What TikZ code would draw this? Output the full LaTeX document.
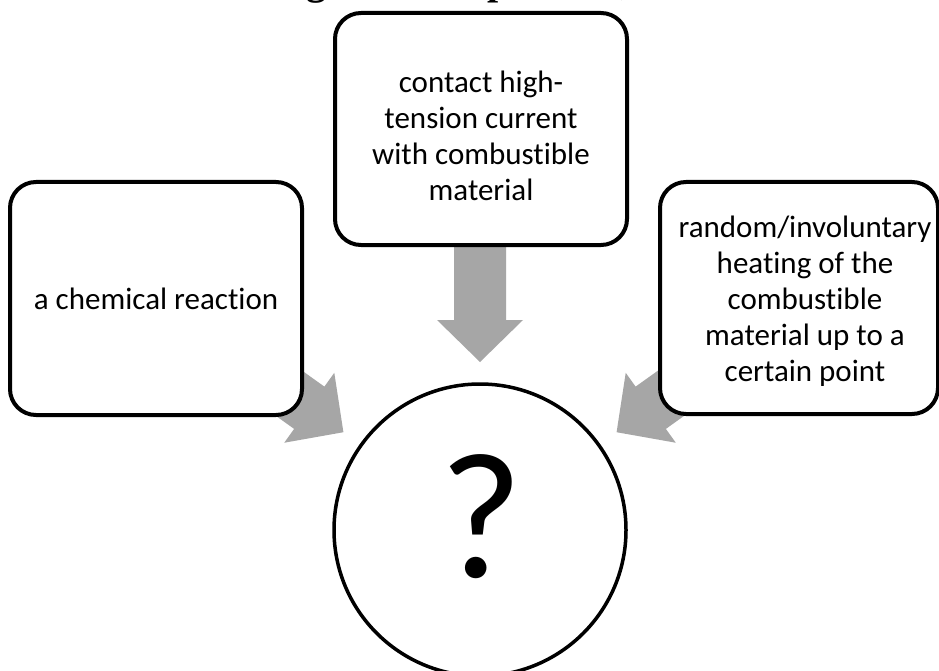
\documentclass[tikz,border=0pt]{standalone}
\usepackage{fontspec}
\setmainfont{Carlito}[Ligatures=NoCommon]
\newfontfamily\headfont{Liberation Serif}
\usetikzlibrary{calc,backgrounds}
\definecolor{arrowgray}{RGB}{166,166,166}

\begin{document}
\begin{tikzpicture}[x=1pt,y=1pt,
  causebox/.style={draw=black, line width=4pt, fill=white, rounded corners=26pt,
    minimum width=292pt, minimum height=233pt, align=center, inner sep=4pt,
    font=\fontsize{31}{36}\selectfont},
  boxtext/.style={align=center, inner sep=0pt, font=\fontsize{31}{36}\selectfont},
  unknown/.style={draw=black, line width=3.5pt, fill=white, circle,
    minimum size=292pt, inner sep=0pt},
  bigmark/.style={inner sep=0pt, font=\fontsize{180}{190}\selectfont},
  fatarrow/.style={fill=arrowgray},
  headbit/.style={font=\headfont\bfseries\fontsize{40}{40}\selectfont,
    anchor=base, inner sep=0pt}
]
\useasboundingbox (0,0) rectangle (939,-671);
\clip (0,0) rectangle (939,-671);

% descenders of the heading line above
\node[headbit] (hg) at (316,5) {g};
\node[headbit] (hp) at (499,5) {p};
\node[headbit] (hc) at (626,5) {,};

% the three causes
\node[causebox] (chem) at (156,-298.5) {a chemical reaction};
\node[causebox, minimum height=232pt] (contact) at (481,-129) {};
\node[boxtext] (contacttext) at (481,-136)
  {contact high-\\tension current\\with combustible\\material};
\node[causebox, minimum width=278pt, minimum height=232pt] (heat) at (799,-298) {};
\node[boxtext] (heattext) at (805,-301)
  {random/involuntary\\heating of the\\combustible\\material up to a\\certain point};

% the unknown result
\node[unknown] (q) at (480,-530) {};
\node[bigmark] (qmark) at (481,-517) {?};

% block arrows pointing at the circle, behind the boxes
\begin{scope}[on background layer]
  \fill[white] (0,0) rectangle (939,-671);
  \foreach \ang/\len in {144.4/160, 90/117, 35.6/160} {
    \fill[fatarrow, shift={($(q.center)+(\ang:168)$)}, rotate=\ang+180]
      (0,0) -- (-42,43) -- (-42,26) -- (-\len,26) -- (-\len,-26)
      -- (-42,-26) -- (-42,-43) -- cycle;
  }
\end{scope}
\end{tikzpicture}
\end{document}
